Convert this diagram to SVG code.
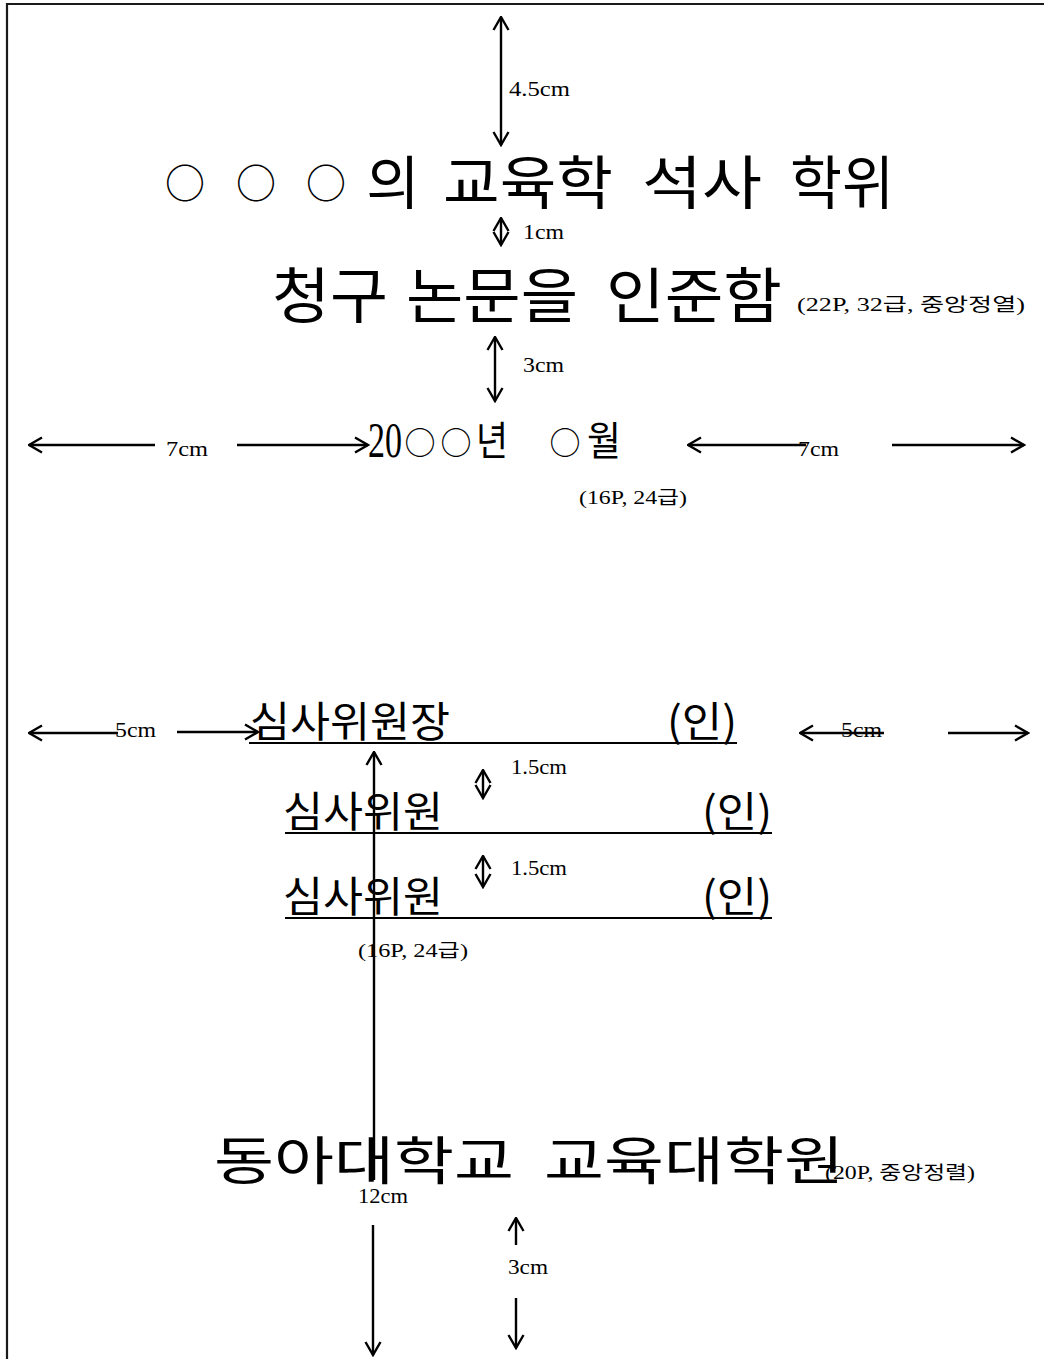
<svg xmlns="http://www.w3.org/2000/svg" width="1044" height="1359" viewBox="0 0 1044 1359">
<style>
.bg{fill:#fff}
.frame{fill:none;stroke:#1a1a1a;stroke-width:2.2}
.ko{font-family:"Noto Sans CJK KR","Noto Sans CJK SC",sans-serif;fill:#000}
.num{font-family:"Liberation Serif","Noto Sans CJK KR",serif;fill:#000}
.lab{font-family:"Liberation Serif","Noto Sans CJK KR",serif;font-size:22px;fill:#000}
.note{font-family:"Liberation Serif","Noto Sans CJK KR",serif;font-size:18px;fill:#000}
.ul{stroke:#000;stroke-width:2.2}
.arr{stroke:#000;stroke-width:2.4;fill:none}
</style>
<defs>
<marker id="ah" viewBox="0 0 16 18" refX="14.5" refY="9" markerWidth="16" markerHeight="18" markerUnits="userSpaceOnUse" orient="auto-start-reverse">
<path d="M1.5,1.5 L14.5,9 L1.5,16.5" fill="none" stroke="#000" stroke-width="2.4"/>
</marker>
</defs>
<rect class="bg" x="0" y="0" width="1044" height="1359"/>
<path class="frame" d="M7,1359 V4 H1044"/>

<g id="title1">
<text class="ko" x="185" y="198" font-size="40" text-anchor="middle">○</text>
<text class="ko" x="256" y="198" font-size="40" text-anchor="middle">○</text>
<text class="ko" x="326" y="198" font-size="40" text-anchor="middle">○</text>
<text class="ko" x="393" y="204" font-size="58" text-anchor="middle">의</text>
<text class="ko" x="528" y="204" font-size="58" text-anchor="middle" textLength="170" lengthAdjust="spacingAndGlyphs">교육학</text>
<text class="ko" x="702" y="204" font-size="58" text-anchor="middle" textLength="120" lengthAdjust="spacingAndGlyphs">석사</text>
<text class="ko" x="842" y="204" font-size="58" text-anchor="middle" textLength="104" lengthAdjust="spacingAndGlyphs">학위</text>
</g>

<g id="title2">
<text class="ko" x="330" y="318" font-size="60" text-anchor="middle" textLength="116" lengthAdjust="spacingAndGlyphs">청구</text>
<text class="ko" x="492" y="318" font-size="60" text-anchor="middle" textLength="172" lengthAdjust="spacingAndGlyphs">논문을</text>
<text class="ko" x="694" y="318" font-size="60" text-anchor="middle" textLength="176" lengthAdjust="spacingAndGlyphs">인준함</text>
<text class="note" x="797" y="311" textLength="228" lengthAdjust="spacingAndGlyphs">(22P, 32급, 중앙정열)</text>
</g>

<g id="date">
<text class="num" x="368" y="457" font-size="50" textLength="34" lengthAdjust="spacingAndGlyphs">20</text>
<text class="ko" x="420" y="454" font-size="31" text-anchor="middle">○</text>
<text class="ko" x="456" y="454" font-size="31" text-anchor="middle">○</text>
<text class="ko" x="492" y="455" font-size="40" text-anchor="middle" textLength="32" lengthAdjust="spacingAndGlyphs">년</text>
<text class="ko" x="565" y="454" font-size="31" text-anchor="middle">○</text>
<text class="ko" x="604" y="455" font-size="40" text-anchor="middle" textLength="34" lengthAdjust="spacingAndGlyphs">월</text>
<text class="note" x="579" y="504" textLength="108" lengthAdjust="spacingAndGlyphs">(16P, 24급)</text>
</g>

<g id="chair">
<text class="ko" x="250" y="737" font-size="42" textLength="200" lengthAdjust="spacingAndGlyphs">심사위원장</text>
<text class="ko" x="667" y="737" font-size="42" textLength="70" lengthAdjust="spacingAndGlyphs">(인)</text>
<line class="ul" x1="249" y1="743" x2="737" y2="743"/>
</g>

<g id="member1">
<text class="ko" x="283" y="827" font-size="42" textLength="160" lengthAdjust="spacingAndGlyphs">심사위원</text>
<text class="ko" x="702" y="827" font-size="42" textLength="70" lengthAdjust="spacingAndGlyphs">(인)</text>
<line class="ul" x1="285" y1="833" x2="772" y2="833"/>
</g>

<g id="member2">
<text class="ko" x="283" y="912" font-size="42" textLength="160" lengthAdjust="spacingAndGlyphs">심사위원</text>
<text class="ko" x="702" y="912" font-size="42" textLength="70" lengthAdjust="spacingAndGlyphs">(인)</text>
<line class="ul" x1="285" y1="918" x2="772" y2="918"/>
<text class="note" x="358" y="957" textLength="110" lengthAdjust="spacingAndGlyphs">(16P, 24급)</text>
</g>

<g id="school">
<text class="ko" x="364" y="1180" font-size="52" text-anchor="middle" textLength="300" lengthAdjust="spacingAndGlyphs">동아대학교</text>
<text class="ko" x="694" y="1180" font-size="52" text-anchor="middle" textLength="300" lengthAdjust="spacingAndGlyphs">교육대학원</text>
<text class="note" x="825" y="1179" textLength="150" lengthAdjust="spacingAndGlyphs">(20P, 중앙정렬)</text>
</g>

<g id="connectors">
<line class="arr" x1="501" y1="17" x2="501" y2="145" marker-start="url(#ah)" marker-end="url(#ah)"/>
<line class="arr" x1="501" y1="218" x2="501" y2="245" marker-start="url(#ah)" marker-end="url(#ah)"/>
<line class="arr" x1="495" y1="337" x2="495" y2="401" marker-start="url(#ah)" marker-end="url(#ah)"/>
<line class="arr" x1="29" y1="445" x2="155" y2="445" marker-start="url(#ah)"/>
<line class="arr" x1="237" y1="445" x2="368" y2="445" marker-end="url(#ah)"/>
<line class="arr" x1="688" y1="445" x2="806" y2="445" marker-start="url(#ah)"/>
<line class="arr" x1="892" y1="445" x2="1024" y2="445" marker-end="url(#ah)"/>
<line class="arr" x1="29" y1="733" x2="118" y2="733" marker-start="url(#ah)"/>
<line class="arr" x1="177" y1="732" x2="258" y2="732" marker-end="url(#ah)"/>
<line class="arr" x1="800" y1="733" x2="884" y2="733" marker-start="url(#ah)"/>
<line class="arr" x1="948" y1="733" x2="1028" y2="733" marker-end="url(#ah)"/>
<line class="arr" x1="483" y1="770" x2="483" y2="798" marker-start="url(#ah)" marker-end="url(#ah)"/>
<line class="arr" x1="483" y1="856" x2="483" y2="887" marker-start="url(#ah)" marker-end="url(#ah)"/>
<line class="arr" x1="374" y1="752" x2="374" y2="1180" marker-start="url(#ah)"/>
<line class="arr" x1="373" y1="1225" x2="373" y2="1355" marker-end="url(#ah)"/>
<line class="arr" x1="516" y1="1218" x2="516" y2="1245" marker-start="url(#ah)"/>
<line class="arr" x1="516" y1="1298" x2="516" y2="1348" marker-end="url(#ah)"/>
</g>

<g id="dimension-labels">
<text class="lab" x="509" y="96" textLength="61" lengthAdjust="spacingAndGlyphs">4.5cm</text>
<text class="lab" x="523" y="239" textLength="41" lengthAdjust="spacingAndGlyphs">1cm</text>
<text class="lab" x="523" y="372" textLength="41" lengthAdjust="spacingAndGlyphs">3cm</text>
<text class="lab" x="166" y="456" textLength="42" lengthAdjust="spacingAndGlyphs">7cm</text>
<text class="lab" x="798" y="456" textLength="41" lengthAdjust="spacingAndGlyphs">7cm</text>
<text class="lab" x="115" y="737" textLength="41" lengthAdjust="spacingAndGlyphs">5cm</text>
<text class="lab" x="841" y="737" textLength="41" lengthAdjust="spacingAndGlyphs">5cm</text>
<text class="lab" x="511" y="774" textLength="56" lengthAdjust="spacingAndGlyphs">1.5cm</text>
<text class="lab" x="511" y="875" textLength="56" lengthAdjust="spacingAndGlyphs">1.5cm</text>
<text class="lab" x="358" y="1203" textLength="50" lengthAdjust="spacingAndGlyphs">12cm</text>
<text class="lab" x="508" y="1274" textLength="40" lengthAdjust="spacingAndGlyphs">3cm</text>
</g>
</svg>
